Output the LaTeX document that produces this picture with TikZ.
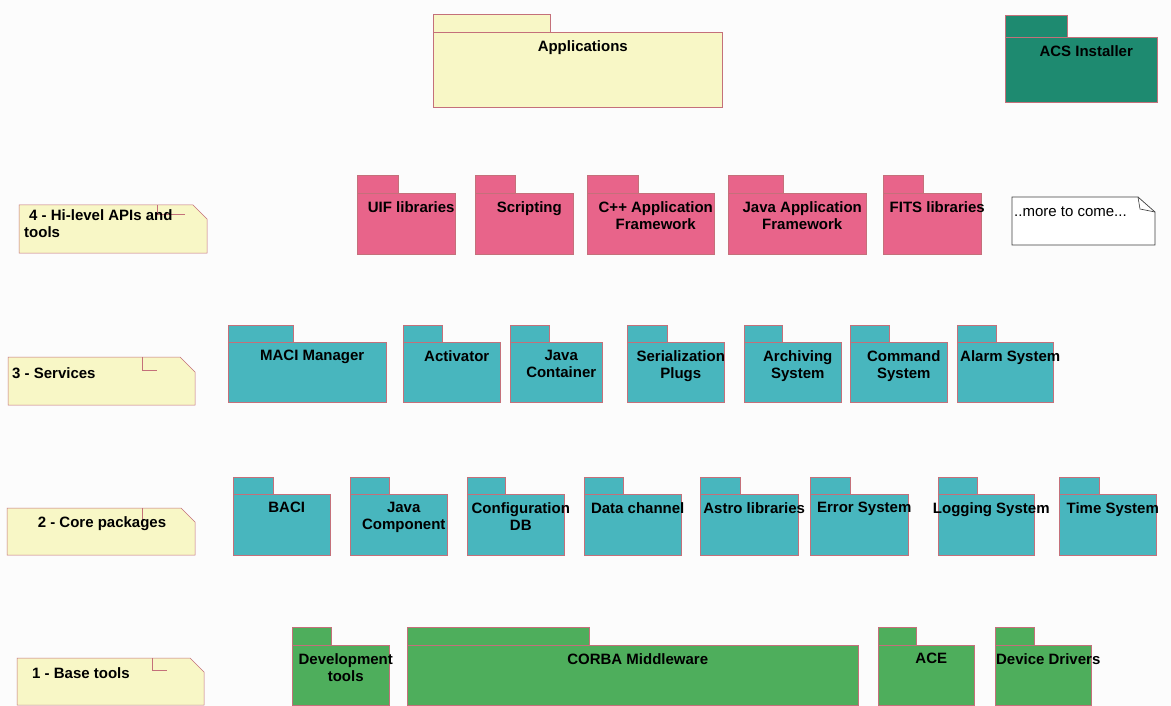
\documentclass[tikz,border=0pt]{standalone}
\usepackage{fontspec}
\setmainfont{Liberation Sans}
\definecolor{pageback}{RGB}{252,252,252}
\definecolor{pkgedge}{RGB}{196,112,122}
\definecolor{noteyellow}{RGB}{248,247,198}
\definecolor{installteal}{RGB}{30,138,112}
\definecolor{apipink}{RGB}{232,100,138}
\definecolor{servcyan}{RGB}{72,182,190}
\definecolor{basegreen}{RGB}{78,174,92}

% \pkg{name}{fill}{left}{right}{tab right}{tab top}{body top}{bottom}{text}
\newcommand\pkg[9]{%
  \draw[pkgline, fill=#2] (#3,#6) rectangle (#5,#7);
  \node[pkgline, fill=#2, anchor=north west, inner sep=0pt,
        minimum width={(#4-#3)*1pt}, minimum height={(#8-#7)*1pt}] (#1) at (#3,#7) {};
  \node[pkgtext, anchor=north] (#1-text) at ([xshift=5pt, yshift=-8pt]#1.north) {#9};
}
% \layernote{name}{left}{top}{right}{bottom}{corner cut}
\newcommand\layernote[6]{%
  \draw[layerbox] (#2,#3) -- ({#4-#6},#3) -- (#4,{#3+#6}) -- (#4,#5) -- (#2,#5) -- cycle;
  \coordinate (#1) at (#2,#3);
}

\begin{document}
\begin{tikzpicture}[x=1pt,y=-1pt,
  pkgline/.style={draw=pkgedge, line width=0.5pt},
  pkgtext/.style={font=\fontsize{15}{17}\selectfont\bfseries, align=center,
                  inner sep=0pt, text=black},
  layerbox/.style={draw=pkgedge, line width=0.5pt, fill=noteyellow},
  layertext/.style={font=\fontsize{15}{17}\selectfont\bfseries, align=left,
                    inner sep=0pt, text=black},
  foldmark/.style={draw=pkgedge, line width=0.6pt},
]
\fill[pageback] (0,0) rectangle (1171,706);
\useasboundingbox (0,0) rectangle (1171,706);

% ---- top level ----
\pkg{apps}{noteyellow}{433}{722}{550}{14}{32}{107}{Applications}
\pkg{installer}{installteal}{1005}{1157}{1067}{15}{37}{102}{ACS Installer}

% ---- layer 4: hi-level APIs and tools ----
\layernote{l4}{19}{205}{207}{253}{14}
\draw[foldmark] (157,205) -- (157,214) -- (185,214);
\node[layertext, anchor=north west] (l4-text) at (24,209.5)
  {\hspace{5pt}4 - Hi-level APIs and\\tools};

\pkg{uif}{apipink}{357}{455}{398}{175}{193}{254}{UIF libraries}
\pkg{scripting}{apipink}{475}{573}{515}{175}{193}{254}{Scripting}
\pkg{cppfw}{apipink}{587}{714}{638}{175}{193}{254}{C++ Application\\Framework}
\pkg{javafw}{apipink}{728}{866}{783}{175}{193}{254}{Java Application\\Framework}
\pkg{fits}{apipink}{883}{981}{923}{175}{193}{254}{FITS libraries}

\draw[draw=black!75, fill=white, line width=0.7pt]
  (1012,197) -- (1138,197) -- (1155,212) -- (1155,245) -- (1012,245) -- cycle;
\draw[draw=black!75, line width=0.6pt] (1138,197) -- (1140,209) -- (1155,212);
\node[layertext, font=\fontsize{15}{17}\selectfont, anchor=north west] (more) at (1014,207)
  {..more to come...};

% ---- layer 3: services ----
\layernote{l3}{8}{357}{195}{405}{15}
\draw[foldmark] (142,357) -- (142,370) -- (157,370);
\node[layertext, anchor=north west] (l3-text) at (12,367.5) {3 - Services};

\pkg{maci}{servcyan}{228}{386}{293}{325}{342}{402}{MACI Manager}
\pkg{activator}{servcyan}{403}{500}{442}{325}{342}{402}{Activator}
\pkg{jcont}{servcyan}{510}{602}{549}{325}{342}{402}{Java\\Container}
\pkg{serial}{servcyan}{627}{724}{667}{325}{342}{402}{Serialization\\Plugs}
\pkg{archive}{servcyan}{744}{841}{782}{325}{342}{402}{Archiving\\System}
\pkg{command}{servcyan}{850}{947}{889}{325}{342}{402}{Command\\System}
\pkg{alarm}{servcyan}{957}{1053}{996}{325}{342}{402}{Alarm System}

% ---- layer 2: core packages ----
\layernote{l2}{7}{508}{195}{555}{14}
\draw[foldmark] (142,508) -- (142,527);
\node[layertext, anchor=north] (l2-text) at (102,516.5) {2 - Core packages};

\pkg{baci}{servcyan}{233}{330}{273}{477}{494}{555}{BACI}
\pkg{jcomp}{servcyan}{350}{447}{389}{477}{494}{555}{Java\\Component}
\pkg{cdb}{servcyan}{467}{564}{505}{477}{494}{555}{Configuration\\DB}
\pkg{datach}{servcyan}{584}{681}{623}{477}{494}{555}{Data channel}
\pkg{astro}{servcyan}{700}{798}{740}{477}{494}{555}{Astro libraries}
\pkg{error}{servcyan}{810}{908}{850}{477}{494}{555}{Error System}
\pkg{logging}{servcyan}{938}{1034}{977}{477}{494}{555}{Logging System}
\pkg{time}{servcyan}{1059}{1156}{1099}{477}{494}{555}{Time System}

% ---- layer 1: base tools ----
\layernote{l1}{17}{658}{204}{705}{14}
\draw[foldmark] (152,658) -- (152,670) -- (167,670);
\node[layertext, anchor=north west] (l1-text) at (32,667.5) {1 - Base tools};

\pkg{devtools}{basegreen}{292}{389}{331}{627}{645}{705}{Development\\tools}
\pkg{corba}{basegreen}{407}{858}{589}{627}{645}{705}{CORBA Middleware}
\pkg{ace}{basegreen}{878}{974}{916}{627}{645}{705}{ACE}
\pkg{drivers}{basegreen}{995}{1091}{1034}{627}{645}{705}{Device Drivers}
\end{tikzpicture}
\end{document}
